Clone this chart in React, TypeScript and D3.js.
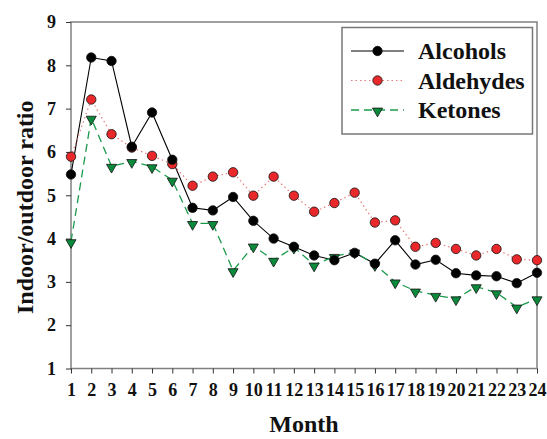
import React, { useRef, useEffect } from 'react';
import * as d3 from 'd3';

// values, month 1..24
const months = d3.range(1, 25);
const alcohols = [5.48, 8.18, 8.1, 6.12, 6.91, 5.82, 4.71, 4.65, 4.96, 4.41, 4.0, 3.81, 3.61, 3.5, 3.67, 3.42, 3.96, 3.4, 3.51, 3.2, 3.15, 3.13, 2.97, 3.21];
const aldehydes = [5.89, 7.21, 6.41, 6.1, 5.91, 5.72, 5.22, 5.43, 5.53, 4.99, 5.43, 4.99, 4.62, 4.82, 5.06, 4.37, 4.42, 3.81, 3.9, 3.76, 3.61, 3.76, 3.52, 3.5];
const ketones = [3.93, 6.78, 5.67, 5.78, 5.66, 5.35, 4.35, 4.35, 3.26, 3.83, 3.5, 3.8, 3.39, 3.59, 3.69, 3.4, 3.0, 2.79, 2.69, 2.61, 2.89, 2.75, 2.42, 2.61];
const yTicks = [1, 2, 3, 4, 5, 6, 7, 8, 9];

const series = [
  { name: 'Alcohols', values: alcohols, line: '#000000', dash: null, width: 1.1, marker: 'circle', fill: '#000000' },
  { name: 'Aldehydes', values: aldehydes, line: '#e87a7a', dash: '1.5,3', width: 1.2, marker: 'circle', fill: '#e8282a' },
  { name: 'Ketones', values: ketones, line: '#1a9a4a', dash: '8,5', width: 1.3, marker: 'triangle', fill: '#0b8a3b' },
];

const font = "'Liberation Serif', 'Times New Roman', 'DejaVu Serif', serif";

const Chart = () => {
  const ref = useRef<SVGSVGElement>(null);

  useEffect(() => {
    const svg = d3.select(ref.current);
    svg.selectAll('*').remove();
    const width = 547;
    const height = 439;
    const left = 71, right = 537, top = 22, bottom = 368.5;

    const x = d3.scaleLinear().domain([1, 24]).range([left, right]);
    const y = d3.scaleLinear().domain([1, 9]).range([bottom, top]);

    svg.attr('width', width).attr('height', height)
      .style('display', 'block')
      .style('font-family', font);
    svg.append('rect').attr('width', width).attr('height', height).attr('fill', '#fff');

    // frame
    svg.append('rect')
      .attr('x', left).attr('y', top)
      .attr('width', right - left).attr('height', bottom - top)
      .attr('fill', 'none').attr('stroke', '#808080').attr('stroke-width', 1.5);

    const xAxis = svg.append('g')
      .attr('transform', `translate(0,${bottom})`)
      .call(d3.axisBottom(x).tickValues(months).tickSize(5).tickPadding(10).tickFormat(d3.format('d')));
    xAxis.attr('font-family', null);
    xAxis.select('.domain').remove();
    xAxis.selectAll('line').attr('stroke', '#333');
    xAxis.selectAll('text')
      .style('font-family', font).style('font-weight', 'bold').style('font-size', '18px').attr('fill', '#111');

    const yAxis = svg.append('g')
      .attr('transform', `translate(${left},0)`)
      .call(d3.axisLeft(y).tickValues(yTicks).tickSize(5).tickPadding(10).tickFormat(d3.format('d')));
    yAxis.attr('font-family', null);
    yAxis.select('.domain').remove();
    yAxis.selectAll('line').attr('stroke', '#333');
    yAxis.selectAll('text')
      .style('font-family', font).style('font-weight', 'bold').style('font-size', '18px').attr('fill', '#111');

    const label = (sel: any, size: number) =>
      sel.style('font-family', font).style('font-weight', 'bold').style('font-size', `${size}px`).attr('fill', '#111');

    // axis titles
    label(svg.append('text')
      .attr('transform', `translate(33,${(top + bottom) / 2 + 12}) rotate(-90)`)
      .attr('text-anchor', 'middle'), 24)
      .text('Indoor/outdoor ratio');
    label(svg.append('text')
      .attr('x', (left + right) / 2).attr('y', 432)
      .attr('text-anchor', 'middle'), 24)
      .text('Month');

    const tri = d3.symbol().type(d3.symbolTriangle).size(44);

    const drawMarker = (g: any, s: any, cx: number, cy: number) => {
      if (s.marker === 'circle') {
        g.append('circle').attr('cx', cx).attr('cy', cy).attr('r', 4.7)
          .attr('fill', s.fill).attr('stroke', '#111').attr('stroke-width', 0.8);
      } else {
        g.append('path').attr('d', tri())
          .attr('transform', `translate(${cx},${cy + 1}) rotate(180)`)
          .attr('fill', s.fill).attr('stroke', '#111').attr('stroke-width', 0.8);
      }
    };

    const line = d3.line<number>().x((d, i) => x(months[i])).y(d => y(d));

    // lines first, then markers (alcohols on top)
    series.forEach(s => {
      svg.append('path')
        .attr('d', line(s.values))
        .attr('fill', 'none')
        .attr('stroke', s.line)
        .attr('stroke-width', s.width)
        .attr('stroke-dasharray', s.dash);
    });
    [series[2], series[1], series[0]].forEach(s => {
      const g = svg.append('g');
      s.values.forEach((v, i) => drawMarker(g, s, x(months[i]), y(v)));
    });

    // legend
    const lg = svg.append('g');
    lg.append('rect')
      .attr('x', 342).attr('y', 27.5).attr('width', 190.5).attr('height', 106.5)
      .attr('fill', '#fff').attr('stroke', '#777').attr('stroke-width', 1.5);
    series.forEach((s, i) => {
      const cy = 51 + i * 29.5;
      lg.append('line')
        .attr('x1', 351).attr('x2', 404).attr('y1', cy).attr('y2', cy)
        .attr('stroke', s.line).attr('stroke-width', s.width).attr('stroke-dasharray', s.dash);
      drawMarker(lg, s, 377.5, cy);
      label(lg.append('text').attr('x', 418).attr('y', cy + 8), 24).text(s.name);
    });
  }, []);

  return <svg ref={ref}></svg>;
};

export default function App() {
  return (
    <div style={{ position: 'absolute', left: 0, top: 0 }}>
      <Chart />
    </div>
  );
}
